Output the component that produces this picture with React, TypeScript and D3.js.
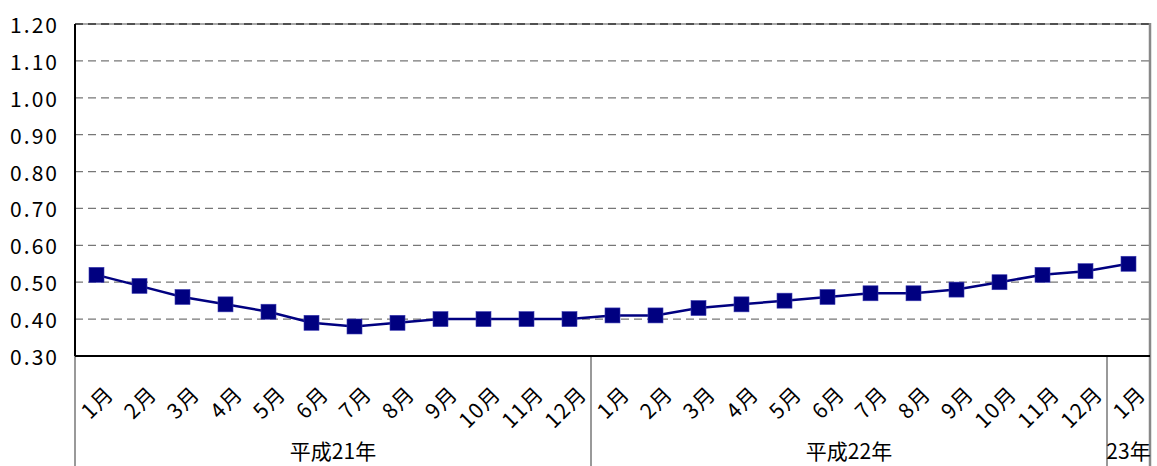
import React from "react";
import * as d3 from "d3";

const months = ["1月","2月","3月","4月","5月","6月","7月","8月","9月","10月","11月","12月","1月","2月","3月","4月","5月","6月","7月","8月","9月","10月","11月","12月","1月"];
const values = [0.52,0.49,0.46,0.44,0.42,0.39,0.38,0.39,0.40,0.40,0.40,0.40,0.41,0.41,0.43,0.44,0.45,0.46,0.47,0.47,0.48,0.50,0.52,0.53,0.55];
const yearGroups = [
  { label: "平成21年", start: 0, end: 12 },
  { label: "平成22年", start: 12, end: 24 },
  { label: "23年", start: 24, end: 25 },
];
const yTicks = [0.3,0.4,0.5,0.6,0.7,0.8,0.9,1.0,1.1,1.2];

const W = 1157, H = 466;
const L = 75, R = 1150, T = 24, B = 356;
const FONT = "'Noto Sans CJK JP', 'Noto Sans', sans-serif";
const NAVY = "#000080";

export default function App() {
  const idx = months.map((_, i) => i);
  const x = d3.scaleBand<number>().domain(idx).range([L, R]).padding(0);
  const y = d3.scaleLinear().domain([0.3, 1.2]).range([B, T]);
  const cx = (i: number) => (x(i) as number) + x.bandwidth() / 2;
  const line = d3.line<number>().x((_, i) => cx(i)).y(v => y(v));
  const edge = (i: number) => (i >= months.length ? R : (x(i) as number));

  return (
    <svg width={W} height={H} style={{ position: "absolute", left: 0, top: 0 }}>
      <rect width={W} height={H} fill="#fff" />
      <line x1={L} x2={R} y1={T} y2={T} stroke="#aaa" strokeWidth={2} />
      {yTicks.filter(t => t > 0.3).map(t => (
        <line key={t} x1={L} x2={R} y1={y(t)} y2={y(t)} stroke={t === 1.2 ? "#333" : "#777"} strokeWidth={t === 1.2 ? 1.5 : 1.3} strokeDasharray="8,5" />
      ))}
      <line x1={R} x2={R} y1={T - 1} y2={H} stroke="#888" strokeWidth={2.5} />
      {[0, 12, 24].map(i => (
        <line key={i} x1={edge(i)} x2={edge(i)} y1={B} y2={H} stroke="#777" strokeWidth={1.5} />
      ))}
      <line x1={L} x2={L} y1={T} y2={B} stroke="#000" strokeWidth={2} />
      <line x1={L} x2={R} y1={B} y2={B} stroke="#000" strokeWidth={2} />
      {yTicks.map(t => (
        <text key={t} x={57} y={y(t)} textAnchor="end" dominantBaseline="central" fontFamily={FONT} fontSize={21} fill="#000" textLength={47} lengthAdjust="spacing">
          {t.toFixed(2)}
        </text>
      ))}
      <path d={line(values) || ""} fill="none" stroke={NAVY} strokeWidth={2.5} />
      {values.map((v, i) => (
        <rect key={i} x={cx(i) - 7.5} y={y(v) - 7.5} width={15} height={15} fill={NAVY} stroke="#3a3ab0" strokeWidth={0.6} />
      ))}
      {months.map((m, i) => (
        <text key={i} transform={`translate(${cx(i) + 19},${395}) rotate(-45)`} textAnchor="end" fontFamily={FONT} fontSize={21} letterSpacing={1.5} fill="#000">
          {m}
        </text>
      ))}
      {yearGroups.map(g => (
        <text key={g.label} x={(edge(g.start) + edge(g.end)) / 2} y={459} textAnchor="middle" fontFamily={FONT} fontSize={21} fill="#000">
          {g.label}
        </text>
      ))}
    </svg>
  );
}
